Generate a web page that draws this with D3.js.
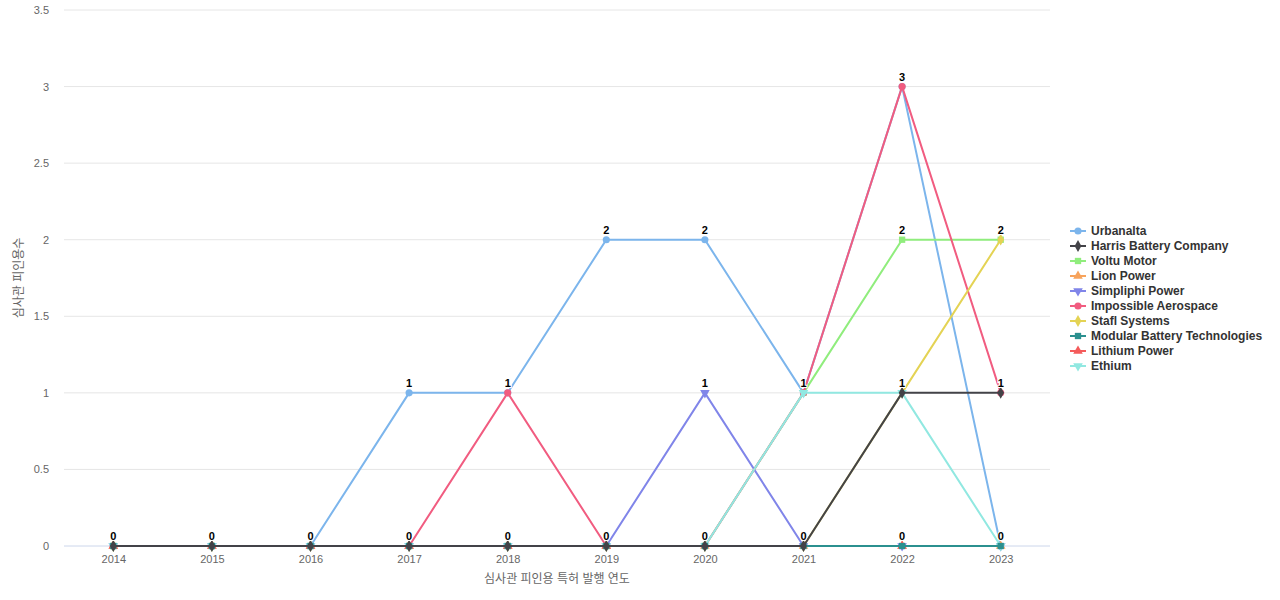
<!DOCTYPE html>
<html><head><meta charset="utf-8">
<script src="https://cdn.jsdelivr.net/npm/d3@7"></script>
<style>body{margin:0;font-family:"Liberation Sans","Noto Sans CJK KR",sans-serif;background:#fff}</style>
</head><body><svg id="c" width="1280" height="600"></svg>
<script>
// categories and series
var years = ["2014","2015","2016","2017","2018","2019","2020","2021","2022","2023"];
var seriesNames = ["Urbanalta","Harris Battery Company","Voltu Motor","Lion Power","Simpliphi Power","Impossible Aerospace","Stafl Systems","Modular Battery Technologies","Lithium Power","Ethium"];
var colors = ["#7cb5ec","#434348","#90ed7d","#f7a35c","#8085e9","#f15c80","#e4d354","#2b908f","#f45b5b","#91e8e1"];
var symbols = ["circle","diamond","square","triangle","triangle-down","circle","diamond","square","triangle","triangle-down"];
var urbanalta = [0,0,0,1,1,2,2,1,3,0];
var harris    = [0,0,0,0,0,0,0,0,1,1];
var voltu     = [0,0,0,0,0,0,0,1,2,2];
var lion      = [0,0,0,0,0,0,0,0,0,0];
var simpliphi = [0,0,0,0,0,0,1,0,0,0];
var impossible= [0,0,0,0,1,0,0,1,3,1];
var stafl     = [0,0,0,0,0,0,0,0,1,2];
var modular   = [0,0,0,0,0,0,0,0,0,0];
var lithium   = [0,0,0,0,0,0,null,null,0,null];
var ethium    = [0,0,0,0,0,0,0,1,1,0];
var yTicks = [0,0.5,1,1.5,2,2.5,3,3.5];
var allSeries = [urbanalta,harris,voltu,lion,simpliphi,impossible,stafl,modular,lithium,ethium];
var drawOrder = [0,2,3,4,5,6,8,9,7,1];

var svg = d3.select("#c");
var x = d3.scalePoint().domain(years).range([64,1050]).padding(0.5);
var y = d3.scaleLinear().domain([0,3.5]).range([546,10]);

// grid
svg.append("g").selectAll("line").data(yTicks).join("line")
  .attr("x1",64).attr("x2",1050).attr("y1",d=>y(d)).attr("y2",d=>y(d))
  .attr("stroke",d=>d===0?"#ccd6eb":"#e6e6e6");
svg.append("g").selectAll("text").data(yTicks).join("text")
  .attr("x",49).attr("y",d=>y(d)+4).attr("text-anchor","end")
  .attr("font-size",11).attr("fill","#666").text(d=>d);
var xa = svg.append("g").attr("transform","translate(0,546)")
  .call(d3.axisBottom(x).tickSize(0).tickPadding(9));
xa.select(".domain").remove();
xa.selectAll("text").attr("font-size",11).attr("fill","#666").attr("font-family","inherit");

svg.append("text").attr("x",557).attr("y",583).attr("text-anchor","middle")
  .attr("font-size",12).attr("fill","#666").text("심사관 피인용 특허 발행 연도");
svg.append("text").attr("transform","translate(23,278) rotate(-90)").attr("text-anchor","middle")
  .attr("font-size",12).attr("fill","#666").text("심사관 피인용수");

var line = d3.line().defined(d=>d!==null).x((d,i)=>x(years[i])).y(d=>y(d));
var symMap = {circle:d3.symbolCircle,diamond:d3.symbolDiamond,square:d3.symbolSquare,triangle:d3.symbolTriangle,"triangle-down":d3.symbolTriangle};
drawOrder.forEach(function(k){
  var s = allSeries[k];
  svg.append("path").attr("d",line(s)).attr("fill","none").attr("stroke",colors[k]).attr("stroke-width",2);
  svg.append("g").selectAll("path").data(s.map((v,i)=>[v,i]).filter(p=>p[0]!==null)).join("path")
    .attr("d",d3.symbol().type(symMap[symbols[k]]).size(40))
    .attr("transform",p=>"translate("+x(years[p[1]])+","+y(p[0])+")"+(symbols[k]==="triangle-down"?" rotate(180)":""))
    .attr("fill",colors[k]);
});

// data labels: one per distinct value at each year
years.forEach(function(yr,i){
  var vals = Array.from(new Set(allSeries.map(s=>s[i]).filter(v=>v!==null)));
  vals.forEach(function(v){
    svg.append("text").attr("x",x(yr)).attr("y",y(v)-6).attr("text-anchor","middle")
      .attr("font-size",11).attr("font-weight","bold").attr("fill","#000")
      .attr("stroke","#fff").attr("stroke-width",2).attr("paint-order","stroke").text(v);
  });
});

// legend
var lg = svg.append("g").attr("transform","translate(1070,231)");
seriesNames.forEach(function(n,k){
  var g = lg.append("g").attr("transform","translate(0,"+(k*15)+")");
  g.append("line").attr("x1",0).attr("x2",16).attr("stroke",colors[k]).attr("stroke-width",2);
  g.append("path").attr("d",d3.symbol().type(symMap[symbols[k]]).size(40)())
    .attr("transform","translate(8,0)"+(symbols[k]==="triangle-down"?" rotate(180)":"")).attr("fill",colors[k]);
  g.append("text").attr("x",21).attr("y",4).attr("font-size",12).attr("font-weight","bold")
    .attr("fill","#333").text(n);
});
</script></body></html>
